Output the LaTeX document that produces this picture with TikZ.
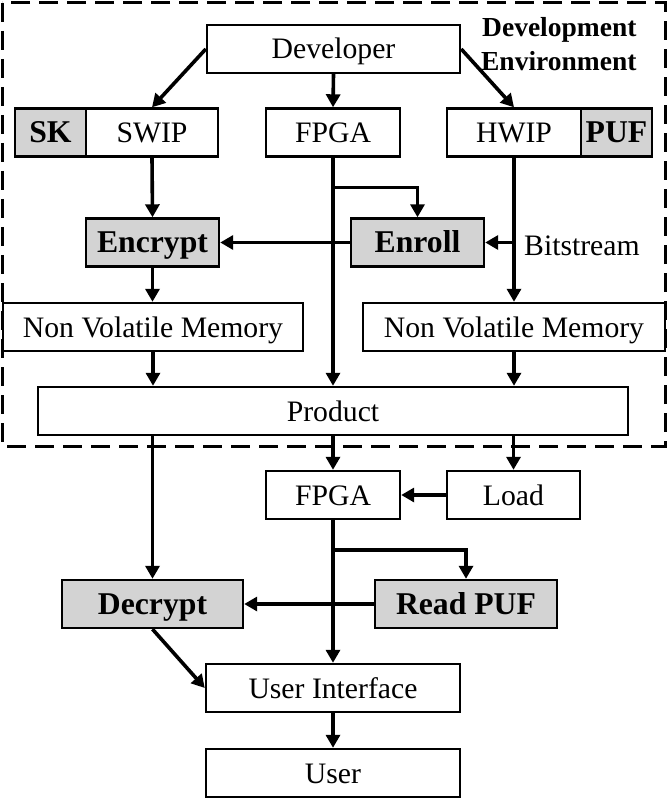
\documentclass[tikz,border=0pt]{standalone}
\usepackage{fontspec}
\setmainfont{Liberation Serif}
\usetikzlibrary{arrows.meta,calc}
\definecolor{boxgray}{RGB}{211,211,211}
\newcommand{\regfont}{\fontsize{29.7}{32}\selectfont}
\newcommand{\boldfont}{\fontsize{31.7}{34}\selectfont\bfseries}
\newcommand{\envfont}{\fontsize{27.5}{34}\selectfont\bfseries}
\begin{document}
\begin{tikzpicture}[x=1pt,y=-1pt,
  box/.style={draw, line width=2.4pt, inner sep=0pt, minimum height=48pt, font=\regfont, text height=20pt, text depth=0pt},
  gbox/.style={box, fill=boxgray, font=\boldfont, text height=21pt},
  arr/.style={line width=3.6pt, -{Triangle[length=13pt,width=14pt]}},
  envline/.style={draw, line width=3pt, dash pattern=on 19pt off 9pt}]
\useasboundingbox (0,0) rectangle (667,799);
\draw[envline] (2,3) rectangle (665,446);
\node[align=right, anchor=east, font=\envfont] (env) at (640,44) {Development\\Environment};

\node[box, minimum width=253pt] (dev) at (333.5,49) {Developer};
\node[gbox, minimum width=71pt] (sk) at (50.5,132.5) {SK};
\node[box, minimum width=132pt] (swip) at (152,132.5) {SWIP};
\node[box, minimum width=134pt] (fpga1) at (333,132.5) {FPGA};
\node[box, minimum width=134pt] (hwip) at (514,132.5) {HWIP};
\node[gbox, minimum width=71pt] (puf) at (616.5,132.5) {PUF};
\node[gbox, minimum width=133pt] (enc) at (152.5,242.5) {Encrypt};
\node[gbox, minimum width=133pt] (enr) at (417.5,242.5) {Enroll};
\node[anchor=west, font=\regfont, inner sep=0pt] (bits) at (524,246) {Bitstream};
\node[box, minimum width=300pt] (nvm1) at (153,327) {Non Volatile Memory};
\node[box, minimum width=302pt] (nvm2) at (514,327) {Non Volatile Memory};
\node[box, minimum width=590pt] (prod) at (333,411) {Product};
\node[box, minimum width=134pt] (fpga2) at (333,495) {FPGA};
\node[box, minimum width=133pt] (load) at (513.5,495) {Load};
\node[gbox, minimum width=181pt] (dec) at (152.5,604) {Decrypt};
\node[gbox, minimum width=182pt] (rpuf) at (466,604) {Read PUF};
\node[box, minimum width=254pt] (ui) at (333,688) {User Interface};
\node[box, minimum width=254pt] (user) at (333,773) {User};

\draw[arr] (dev.west) -- (swip.north);
\draw[arr] (dev.south) -- (fpga1.north);
\draw[arr] (dev.east) -- (hwip.north);
\draw[arr] (swip.south) -- (enc.north);
\draw[arr] (fpga1.south) -- (prod.north);
\draw[arr] ([yshift=-30pt]fpga1.south) -| (enr.north);
\draw[arr] (hwip.south) -- (nvm2.north);
\draw[arr] (hwip.south |- enr.east) -- (enr.east);
\draw[arr] (enr.west) -- (enc.east);
\draw[arr] (enc.south) -- (enc.south |- nvm1.north);
\draw[arr] (nvm1.south) -- (nvm1.south |- prod.north);
\draw[arr] (nvm2.south) -- (nvm2.south |- prod.north);
\draw[arr] (prod.south -| dec.north) -- (dec.north);
\draw[arr] (prod.south) -- (fpga2.north);
\draw[arr] (prod.south -| load.north) -- (load.north);
\draw[arr] (load.west) -- (fpga2.east);
\draw[arr] (fpga2.south) -- (ui.north);
\draw[arr] ([yshift=-30pt]fpga2.south) -| (rpuf.north);
\draw[arr] (rpuf.west) -- (dec.east);
\draw[arr] (dec.south) -- (ui.west);
\draw[arr] (ui.south) -- (user.north);
\end{tikzpicture}
\end{document}
